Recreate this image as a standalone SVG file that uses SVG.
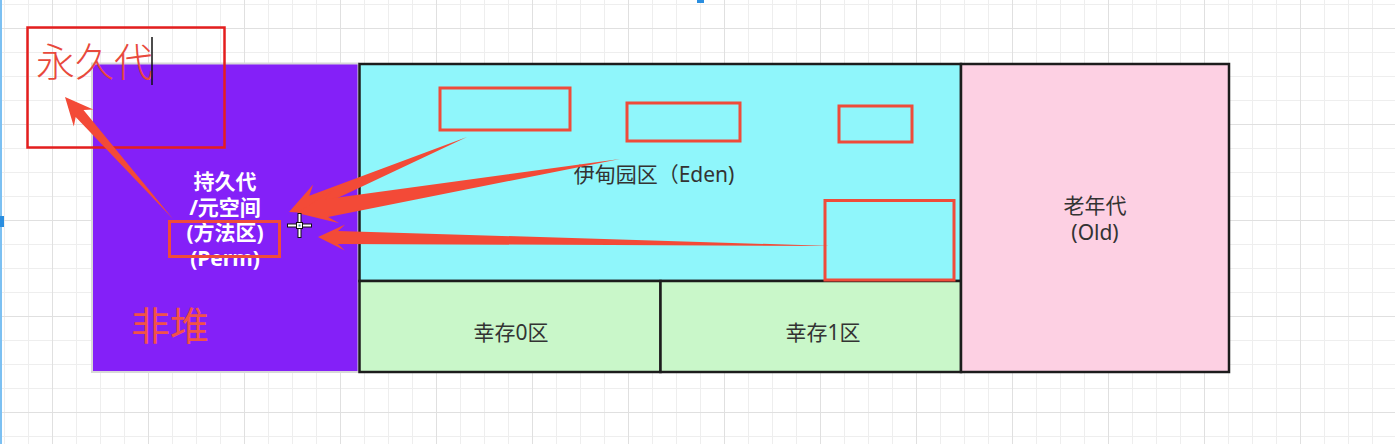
<svg xmlns="http://www.w3.org/2000/svg" width="1395" height="444" viewBox="0 0 1395 444">
  <defs>
    <pattern id="grid" patternUnits="userSpaceOnUse" x="52" y="28" width="96" height="96">
      <path d="M24.5 0V96M48.5 0V96M72.5 0V96M0 24.5H96M0 48.5H96M0 72.5H96" stroke="#eeeeee" stroke-width="1" fill="none"/>
      <path d="M0.5 0V96M0 0.5H96" stroke="#e0e0e0" stroke-width="1" fill="none"/>
    </pattern>
    <style>
      .box { stroke: #1c1c1c; stroke-width: 2.5; }
      .lbl { font-family: "Noto Sans", "Noto Sans CJK SC", sans-serif; font-size: 21px; fill: #333333; text-anchor: middle; }
      .perm { font-family: "Noto Sans", "Noto Sans CJK SC", sans-serif; font-size: 21px; font-weight: bold; fill: #ffffff; text-anchor: middle; }
      .mark { fill: none; stroke: #ef4b3a; stroke-width: 3; }
      .arrow { fill: #f34a37; }
      .big { font-family: "Noto Sans CJK SC", sans-serif; font-size: 39px; }
    </style>
  </defs>

  <rect width="1395" height="444" fill="#ffffff"/>
  <rect width="1395" height="444" fill="url(#grid)"/>

  <!-- canvas UI handles -->
  <rect x="0" y="0" width="2" height="444" fill="#7cc0f2"/>
  <rect x="0" y="216" width="4" height="11" fill="#2a8ee0"/>
  <rect x="697" y="0" width="7" height="3" fill="#2a8ee0"/>

  <g id="perm">
    <rect x="92" y="63.5" width="266.5" height="308.5" fill="#8420f8" stroke="#d8d8d8" stroke-width="2"/>
    <text class="perm" x="225" y="189">持久代</text>
    <text class="perm" x="225" y="214.5">/元空间</text>
    <text class="perm" x="225" y="240">(方法区)</text>
    <text class="perm" x="225" y="265.5">(Perm)</text>
    <text class="big" x="131" y="340" fill="#f25248">非堆</text>
  </g>

  <g id="eden">
    <rect class="box" x="359.5" y="64" width="601.5" height="217" fill="#8ff6fb"/>
    <text class="lbl" x="654" y="182">伊甸园区（Eden)</text>
  </g>

  <g id="survivor0">
    <rect class="box" x="359.5" y="281" width="301" height="91" fill="#c9f7c9"/>
    <text class="lbl" x="511" y="340">幸存0区</text>
  </g>

  <g id="survivor1">
    <rect class="box" x="660.5" y="281" width="300.5" height="91" fill="#c9f7c9"/>
    <text class="lbl" x="823" y="340">幸存1区</text>
  </g>

  <g id="old">
    <rect class="box" x="961" y="64" width="268" height="308" fill="#fdd0e3"/>
    <text class="lbl" x="1095" y="213">老年代</text>
    <text class="lbl" x="1095" y="239.5">(Old)</text>
  </g>

  <g id="permanent-label">
    <rect x="27.5" y="27.5" width="197" height="120" fill="none" stroke="#e41e1e" stroke-width="2.5"/>
    <text class="big" x="36" y="76" fill="#e8493c" font-weight="300">永久代</text>
    <line x1="152" y1="37" x2="152" y2="85" stroke="#111111" stroke-width="1.5"/>
  </g>

  <g id="marks">
    <rect class="mark" x="440" y="88" width="130" height="42"/>
    <rect class="mark" x="627" y="103" width="113" height="38"/>
    <rect class="mark" x="839" y="106" width="73" height="36"/>
    <rect class="mark" x="825" y="200.5" width="129" height="79.5"/>
    <rect class="mark" x="169.5" y="221.5" width="110" height="35"/>
  </g>

  <g id="connectors">
    <polygon class="arrow" points="467,137 309.3,195.8 313.2,184.5 289,212 325.6,213.9 314.8,208.7"/>
    <polygon class="arrow" points="620,159 325.1,199.2 333.7,189.6 297,213 339.3,223.2 328.1,216.9"/>
    <polygon class="arrow" points="832,246 338.1,230.9 345.2,224.5 318,237 344.8,250.5 337.9,243.9"/>
    <polygon class="arrow" points="173,219 83.5,110 93.3,109.4 65,97 73.8,126.6 75.7,117"/>
  </g>

  <g id="cursor">
    <path d="M299.5 213V238M287 225.5H312" stroke="#111111" stroke-width="4"/>
    <path d="M299.5 214V237M288 225.5H311" stroke="#ffffff" stroke-width="2"/>
    <rect x="296.5" y="222.5" width="6" height="6" fill="#ffffff" stroke="#111111" stroke-width="1"/>
    <rect x="298.5" y="224.5" width="2" height="2" fill="#4a7fb0"/>
  </g>
</svg>
